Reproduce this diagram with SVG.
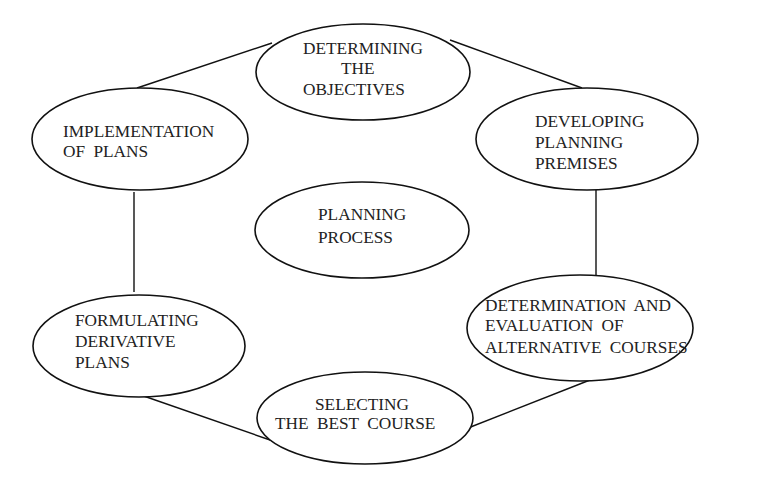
<svg xmlns="http://www.w3.org/2000/svg" width="757" height="478" viewBox="0 0 757 478">
<style>
.n ellipse{fill:#fff;stroke:#111;stroke-width:1.6}
.n text{font-family:"Liberation Serif","Times New Roman",serif;font-size:17.3px;word-spacing:4px;fill:#222}
.c line{stroke:#111;stroke-width:1.4}
</style>
<rect width="757" height="478" fill="#fff"/>
<g id="connectors" class="c">
<line x1="137" y1="88" x2="272" y2="43"/>
<line x1="450" y1="40" x2="582" y2="88"/>
<line x1="134" y1="192" x2="134" y2="292"/>
<line x1="596" y1="190" x2="596" y2="275"/>
<line x1="135" y1="393" x2="273" y2="441"/>
<line x1="590" y1="380" x2="463" y2="430"/>
</g>
<g id="objectives" class="n">
<ellipse cx="363" cy="72" rx="107" ry="48"/>
<text x="303" y="54">DETERMINING</text>
<text x="341" y="74">THE</text>
<text x="303" y="95">OBJECTIVES</text>
</g>
<g id="implementation" class="n">
<ellipse cx="140" cy="139" rx="108" ry="51"/>
<text x="63" y="137">IMPLEMENTATION</text>
<text x="63" y="157">OF  PLANS</text>
</g>
<g id="premises" class="n">
<ellipse cx="587" cy="139" rx="111" ry="51"/>
<text x="535" y="127">DEVELOPING</text>
<text x="535" y="148">PLANNING</text>
<text x="535" y="169">PREMISES</text>
</g>
<g id="process" class="n">
<ellipse cx="362" cy="230" rx="107" ry="48"/>
<text x="318" y="220">PLANNING</text>
<text x="318" y="243">PROCESS</text>
</g>
<g id="derivative" class="n">
<ellipse cx="139" cy="346" rx="106" ry="51"/>
<text x="75" y="326">FORMULATING</text>
<text x="75" y="347">DERIVATIVE</text>
<text x="75" y="368">PLANS</text>
</g>
<g id="alternatives" class="n">
<ellipse cx="580" cy="328" rx="113" ry="53"/>
<text x="485" y="311">DETERMINATION AND</text>
<text x="485" y="331">EVALUATION OF</text>
<text x="485" y="353">ALTERNATIVE COURSES</text>
</g>
<g id="selecting" class="n">
<ellipse cx="365" cy="418" rx="108" ry="46"/>
<text x="315" y="410">SELECTING</text>
<text x="275" y="429">THE BEST COURSE</text>
</g>
</svg>
